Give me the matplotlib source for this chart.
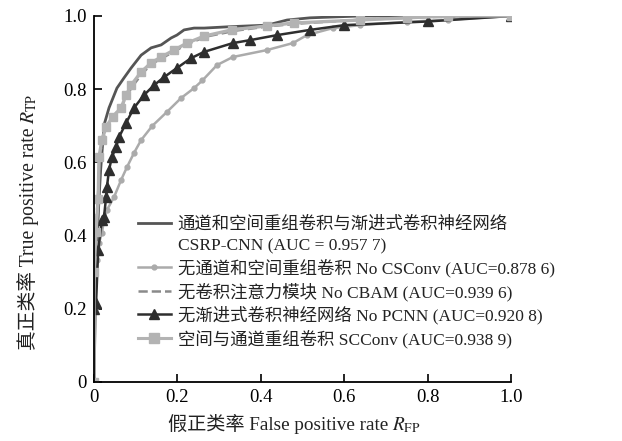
import numpy as np
import matplotlib
matplotlib.use('Agg')
import matplotlib.pyplot as plt
from matplotlib.lines import Line2D

plt.rcParams['font.family'] = ['Liberation Serif', 'Noto Sans CJK SC']
plt.rcParams['mathtext.fontset'] = 'stix'

# ROC points
csrp_fpr = [0, 0.004, 0.008, 0.012, 0.016, 0.020, 0.024, 0.036, 0.055, 0.072, 0.089, 0.113, 0.137,
            0.161, 0.185, 0.199, 0.216, 0.240, 0.264, 0.33, 0.415, 0.463, 0.518, 0.638, 0.8, 1.0]
csrp_tpr = [0, 0.25, 0.40, 0.50, 0.58, 0.64, 0.702, 0.749, 0.803, 0.831, 0.858, 0.893, 0.913,
            0.921, 0.940, 0.948, 0.962, 0.967, 0.967, 0.971, 0.975, 0.989, 0.995, 1.0, 1.0, 1.0]

cs_fpr = [0, 0.003, 0.007, 0.012, 0.019, 0.024, 0.031, 0.048, 0.065, 0.079, 0.096, 0.113, 0.14,
          0.175, 0.209, 0.24, 0.26, 0.295, 0.333, 0.415, 0.477, 0.511, 0.573, 0.638, 0.751, 0.85, 1.0]
cs_tpr = [0, 0.2, 0.333, 0.38, 0.407, 0.443, 0.47, 0.505, 0.552, 0.587, 0.626, 0.661, 0.70,
          0.738, 0.776, 0.803, 0.824, 0.866, 0.888, 0.907, 0.926, 0.948, 0.967, 0.975, 0.984, 0.99, 1.0]

cbam_fpr = [0, 0, 0.005, 0.01, 0.014, 0.022, 0.032, 0.048, 0.066, 0.08, 0.095, 0.118, 0.14,
            0.165, 0.195, 0.225, 0.27, 0.34, 0.42, 0.5, 0.64, 0.8, 1.0]
cbam_tpr = [0, 0.32, 0.43, 0.52, 0.62, 0.665, 0.70, 0.728, 0.752, 0.786, 0.812, 0.846, 0.87,
            0.886, 0.905, 0.924, 0.944, 0.96, 0.972, 0.98, 0.99, 0.997, 1.0]

pcnn_fpr = [0, 0, 0.005, 0.01, 0.019, 0.024, 0.029, 0.031, 0.036, 0.043, 0.053, 0.06, 0.077, 0.096,
            0.12, 0.144, 0.168, 0.199, 0.233, 0.264, 0.333, 0.374, 0.44, 0.518, 0.6, 0.8, 1.0]
pcnn_tpr = [0, 0.2, 0.216, 0.36, 0.443, 0.451, 0.505, 0.533, 0.579, 0.615, 0.642, 0.669, 0.708, 0.749,
            0.784, 0.811, 0.833, 0.858, 0.885, 0.902, 0.926, 0.934, 0.948, 0.962, 0.975, 0.985, 1.0]

sc_fpr = [0, 0, 0.005, 0.01, 0.012, 0.019, 0.029, 0.045, 0.065, 0.077, 0.089, 0.113, 0.137, 0.161,
          0.192, 0.223, 0.264, 0.33, 0.415, 0.48, 0.638, 0.75, 0.85, 1.0]
sc_tpr = [0, 0.3, 0.41, 0.5, 0.615, 0.661, 0.697, 0.725, 0.749, 0.784, 0.811, 0.847, 0.872, 0.888,
          0.907, 0.926, 0.945, 0.962, 0.973, 0.981, 0.989, 0.995, 1.0, 1.0]

labels = ['通道和空间重组卷积与渐进式卷积神经网络',
          'CSRP-CNN (AUC = 0.957 7)',
          '无通道和空间重组卷积 No CSConv (AUC=0.878 6)',
          '无卷积注意力模块 No CBAM (AUC=0.939 6)',
          '无渐进式卷积神经网络 No PCNN (AUC=0.920 8)',
          '空间与通道重组卷积 SCConv (AUC=0.938 9)']

W, H = 622, 441
fig = plt.figure(figsize=(W / 100, H / 100), dpi=100)
ax = fig.add_axes([94/W, 59/H, 417/W, 366/H])

ax.plot(csrp_fpr, csrp_tpr, color='#555555', lw=2.0)
ax.plot(cs_fpr, cs_tpr, color='#ababab', lw=1.8, marker='o', ms=3.5)
ax.plot(cbam_fpr, cbam_tpr, color='#8a8a8a', lw=1.8, ls='--')
ax.plot(pcnn_fpr, pcnn_tpr, color='#2e2e2e', lw=1.8, marker='^', ms=6.5)
ax.plot(sc_fpr, sc_tpr, color='#b3b3b3', lw=2.4, marker='s', ms=6)

ax.set_xlim(0, 1)
ax.set_ylim(0, 1)
ticks = [0, 0.2, 0.4, 0.6, 0.8, 1.0]
ticklabels = ['0', '0.2', '0.4', '0.6', '0.8', '1.0']
ax.set_xticks(ticks)
ax.set_xticklabels(ticklabels)
ax.set_yticks(ticks)
ax.set_yticklabels(ticklabels)
ax.tick_params(direction='in', length=6, width=1.2, labelsize=13.5, pad=5)
ax.spines['top'].set_visible(False)
ax.spines['right'].set_visible(False)
for s in ['left', 'bottom']:
    ax.spines[s].set_linewidth(1.3)

handles = [Line2D([], [], color='#555555', lw=2.0),
           Line2D([], [], ls='none'),
           Line2D([], [], color='#ababab', lw=1.8, marker='o', ms=3.5),
           Line2D([], [], color='#8a8a8a', lw=1.8, ls='--'),
           Line2D([], [], color='#2e2e2e', lw=1.8, marker='^', ms=7),
           Line2D([], [], color='#b3b3b3', lw=2.2, marker='s', ms=6.5)]
leg = ax.legend(handles, labels, loc='upper left', bbox_to_anchor=(0.105, 0.452),
                frameon=False, fontsize=12.5, handlelength=1.9, handletextpad=0.4,
                labelspacing=0.28, borderpad=0, borderaxespad=0)
for t in leg.get_texts():
    t.set_color('#222222')

# axis labels: CJK/Latin part plus a mathtext part placed right after it
fig.canvas.draw()
r = fig.canvas.get_renderer()

xl = fig.text(168/W, 11/H, '假正类率 False positive rate', fontsize=13.8,
              ha='left', va='baseline', color='#222222')
bb = xl.get_window_extent(r)
fig.text((bb.x1 + 4)/W, 11/H, r'$R_{\mathrm{FP}}$', fontsize=13.8,
         ha='left', va='baseline', color='#222222')

yl = fig.text(34/W, 91/H, '真正类率 True positive rate', fontsize=14.2, rotation=90,
              rotation_mode='anchor', ha='left', va='baseline', color='#222222')
bb = yl.get_window_extent(r)
fig.text(34/W, (bb.y1 + 4)/H, r'$R_{\mathrm{TP}}$', fontsize=14.2, rotation=90,
         rotation_mode='anchor', ha='left', va='baseline', color='#222222')

fig.savefig('out.png', dpi=100)
